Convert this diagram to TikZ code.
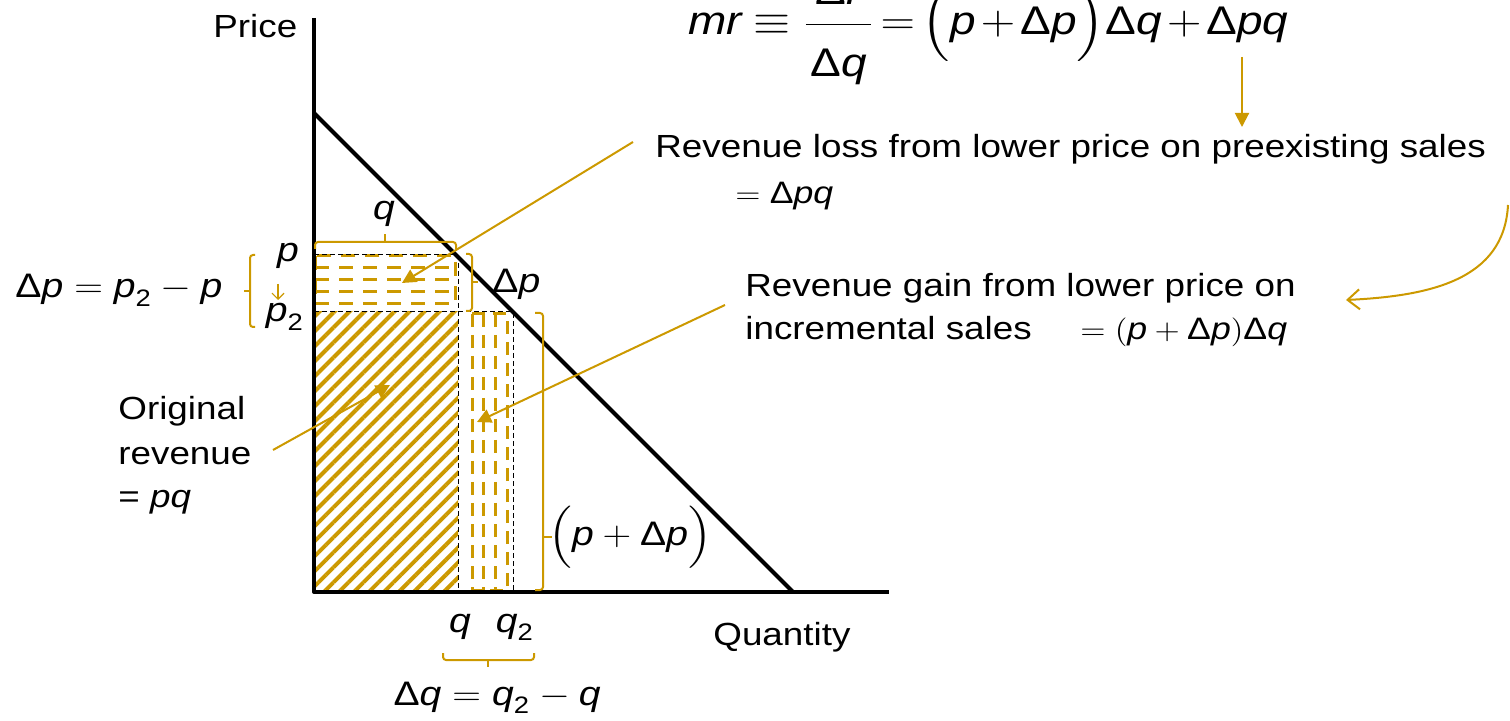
\documentclass[tikz,border=0pt]{standalone}
\usepackage{amsmath}
\usepackage{fontspec}
\setmainfont{Liberation Sans}
\usetikzlibrary{arrows.meta,patterns.meta}
\definecolor{gold}{RGB}{204,153,0}
\newcommand\hs[1]{\scalebox{1.15}[1]{#1}}
\newcommand\vi[1]{\mbox{\itshape #1}}
\newcommand\Dl{\mbox{Δ}}
\begin{document}
\begin{tikzpicture}[x=0.5pt,y=-0.5pt,line join=round,
  txt/.style={font=\fontsize{16}{19}\selectfont,inner sep=0pt,anchor=base west},
  mth/.style={font=\fontsize{17}{20}\selectfont,inner sep=0pt},
  small/.style={font=\fontsize{15.5}{18}\selectfont,inner sep=0pt,anchor=base west},
  garrow/.style={draw=gold,line width=1pt,-{Triangle[length=7pt,width=7pt]}},
  openarrow/.style={draw=gold,line width=1pt,-{Straight Barb[length=6pt,width=10pt]}},
  brace/.style={draw=gold,line width=1pt,rounded corners=1.5pt},
  gdash/.style={draw=gold,line width=1.5pt,dash pattern=on 7pt off 5pt},
  gvdash/.style={draw=gold,line width=1.5pt,dash pattern=on 6.5pt off 4pt},
  bdash/.style={draw=black,line width=0.5pt,dash pattern=on 2.5pt off 1.5pt},
  axis/.style={draw=black,line width=2pt}]
\useasboundingbox (0,0) rectangle (1510,721);

% original revenue hatch
\path[pattern={Lines[angle=45,distance=5.3pt,line width=2pt]},pattern color=gold]
  (315,312) rectangle (458,591);

% revenue loss region
\draw[gdash] (315,256) rectangle (455,304);
\foreach \yy in {268,280,292} \draw[gdash] (315,\yy) -- (455,\yy);

% revenue gain region
\draw[gvdash] (472,314) rectangle (507,590);
\foreach \xx in {483,495} \draw[gvdash] (\xx,314) -- (\xx,590);

% black dashed guides
\draw[bdash] (314,255) -- (458,255) -- (458,592);
\draw[bdash] (314,312) -- (513,312) -- (513,592);

% axes and demand
\coordinate (O) at (314,592);
\coordinate (ytop) at (314,18);
\coordinate (xend) at (889,592);
\coordinate (d1) at (314,113);
\coordinate (d2) at (793,592);
\draw[axis] (ytop) -- (O) -- (xend);
\draw[axis] (d1) -- (d2);

% brackets
\draw[brace] (315,249) -- (315,242) -- (456,242) -- (456,249);
\draw[brace] (385,242) -- (385,234);
\draw[brace] (255,255) -- (250,255) -- (250,327) -- (255,327);
\draw[brace] (250,291) -- (244,291);
\draw[brace] (466,254) -- (472,254) -- (472,311) -- (466,311);
\draw[brace] (472,282) -- (478,282);
\draw[brace] (535,313) -- (543,313) -- (543,590) -- (535,590);
\draw[brace] (543,537) -- (552,537);
\draw[brace] (443,653) -- (443,660) -- (534,660) -- (534,653);
\draw[brace] (488,660) -- (488,667);

% texts
\node[txt] (price) at (213,38) {\hs{Price}};
\node[txt] (quantity) at (713,645) {\hs{Quantity}};
\node[txt] (loss1) at (655,158) {\hs{Revenue loss from lower price on preexisting sales}};
\node[small] (loss2) at (735,204) {\hs{$=\Dl\vi{pq}$}};
\node[txt] (gain1) at (745,297) {\hs{Revenue gain from lower price on}};
\node[txt] (gain2) at (745,340) {\hs{incremental sales}};
\node[small] (gain3) at (1080,340) {\hs{$=(\vi{p}+\Dl\vi{p})\Dl\vi{q}$}};
\node[txt] (orig1) at (118,420) {\hs{Original}};
\node[txt] (orig2) at (118,465) {\hs{revenue}};
\node[txt] (orig3) at (118,508) {\hs{= \textit{pq}}};

\node[mth,anchor=base] (qlab) at (384,220) {\hs{\vi{q}}};
\node[mth,anchor=base west] (dplab) at (492,293) {\hs{$\Dl\vi{p}$}};
\node[mth,anchor=base] (plab) at (288,262) {\hs{\vi{p}}};
\node[mth,anchor=base] (p2lab) at (285,322) {\hs{$\vi{p}_{\text{2}}$}};
\node[mth,anchor=base west] (dpeq) at (15,298) {\hs{$\Dl\vi{p}=\vi{p}_{\text{2}}-\vi{p}$}};
\node[mth,anchor=west] (ppdp) at (548,537) {\hs{$\Bigl(\vi{p}+\Dl\vi{p}\Bigr)$}};
\node[mth,anchor=base] (qb) at (460,632) {\hs{\vi{q}}};
\node[mth,anchor=base] (q2b) at (515,632) {\hs{$\vi{q}_{\text{2}}$}};
\node[mth,anchor=base] (dqeq) at (497,705) {\hs{$\Dl\vi{q}=\vi{q}_{\text{2}}-\vi{q}$}};

\node[font=\fontsize{20}{24}\selectfont,inner sep=0pt,anchor=base west] (mr) at (688,35)
  {\hs{$\thickmuskip=2.5mu\medmuskip=2mu
  \vi{mr}\mskip2mu\equiv\mskip2mu\dfrac{\Dl\vi{r}\rule[-7pt]{0pt}{7pt}}{\hspace{2pt}\rule{0pt}{23pt}\Dl\vi{q}\hspace{2pt}}=\Bigl(\vi{p}+\Dl\vi{p}\Bigr)\Dl\vi{q}+\Dl\vi{pq}$}};

% arrows
\coordinate (a1s) at (273,450); \coordinate (a1e) at (390,385);
\draw[garrow] (a1s) -- (a1e);
\coordinate (a2s) at (633,142); \coordinate (a2e) at (402,283);
\draw[garrow] (a2s) -- (a2e);
\coordinate (a3s) at (725,305); \coordinate (a3e) at (477,422);
\draw[garrow] (a3s) -- (a3e);
\coordinate (a4s) at (1242,57); \coordinate (a4e) at (1242,127);
\draw[garrow] (a4s) -- (a4e);
\coordinate (a5s) at (1508,205); \coordinate (a5e) at (1346,300);
\draw[openarrow] (a5s) .. controls (1504,280) and (1430,296) .. (a5e);
\coordinate (a6s) at (278,284); \coordinate (a6e) at (278,300);
\draw[draw=gold,line width=0.6pt,-{Straight Barb[length=3pt,width=6pt]}] (a6s) -- (a6e);
\end{tikzpicture}
\end{document}
